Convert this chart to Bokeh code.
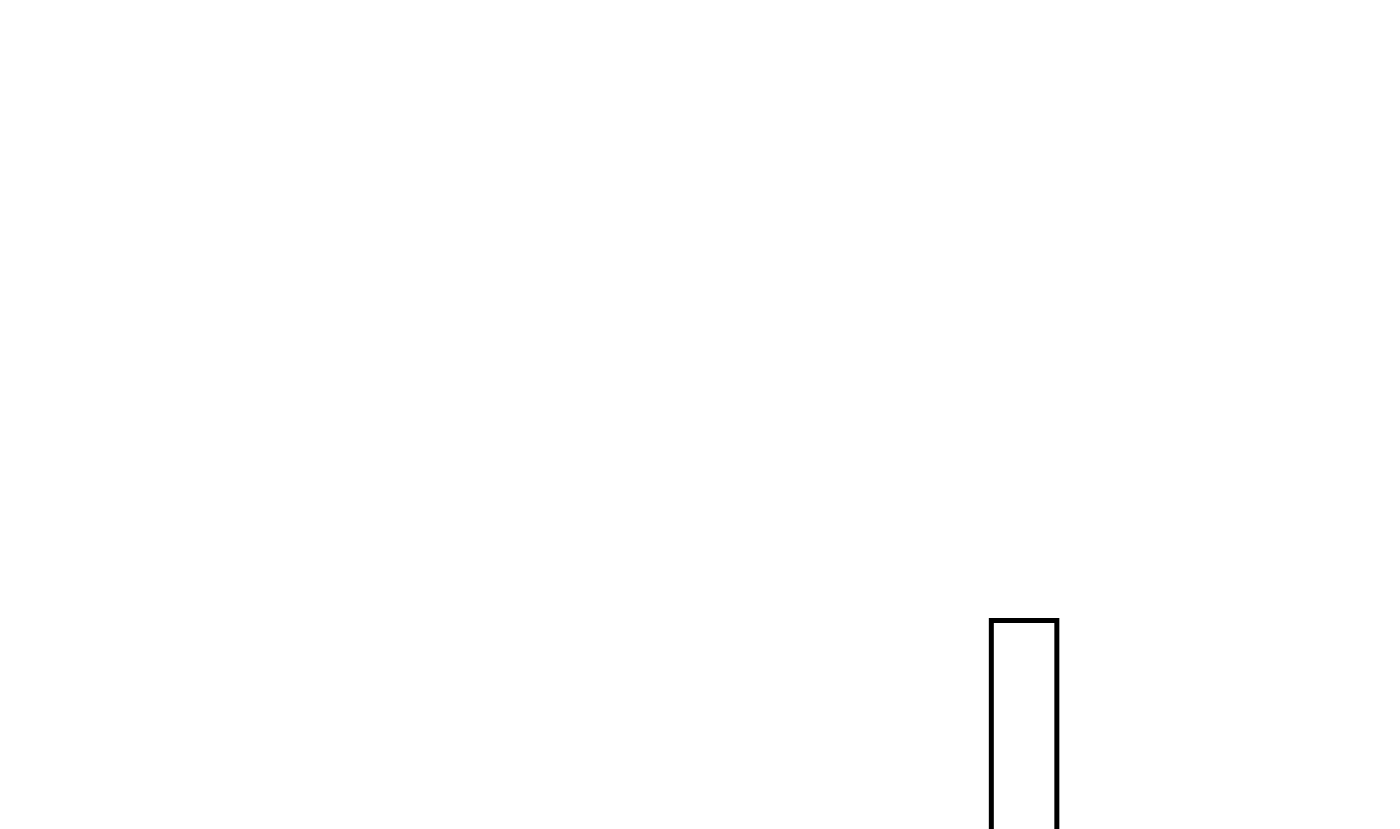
from bokeh.plotting import figure
from bokeh.models import Range1d, ColumnDataSource
from bokeh.embed import file_html
from bokeh.resources import INLINE

# Data: a single bar visible in the (zoomed-in) view
categories = [1]
values = [1.0]
bar_width = 0.8
baseline = 0.0

p = figure(width=1400, height=829, output_backend="svg", toolbar_location=None,
           x_range=Range1d(-11.498, 5.596), y_range=Range1d(0.55, 2.335),
           min_border=0, outline_line_color=None)
p.axis.visible = False
p.grid.visible = False
p.background_fill_color = "white"
p.border_fill_color = "white"

# white bar body
p.vbar(x=categories, top=values, bottom=baseline, width=bar_width,
       fill_color="white", line_color=None)

# bar outline (open at the baseline, which lies below the view)
xs, ys = [], []
for c, v in zip(categories, values):
    l, r = c - bar_width / 2, c + bar_width / 2
    xs.append([l, l, r, r])
    ys.append([baseline, v, v, baseline])
p.multi_line(xs=xs, ys=ys, line_color="black", line_width=5, line_join="miter")

open("out.html", "w").write(file_html(p, INLINE))
